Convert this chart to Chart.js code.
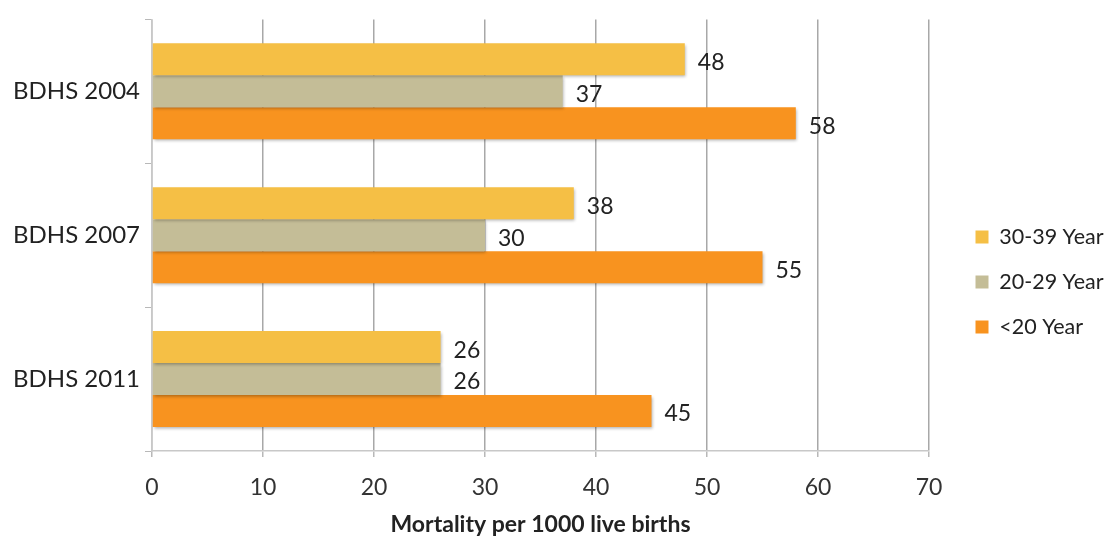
<!DOCTYPE html>
<html>
<head>
<meta charset="utf-8">
<script src="https://cdn.jsdelivr.net/npm/chart.js@4.4.1/dist/chart.umd.min.js"></script>
<style>
  html, body { margin: 0; padding: 0; background: #fff; }
  #wrap { width: 1114px; height: 536px; position: relative; }
</style>
</head>
<body>
<div id="wrap"><canvas id="mortChart"></canvas></div>
<script>
const surveys = ["BDHS 2004", "BDHS 2007", "BDHS 2011"];
const age30to39 = [48, 38, 26];
const age20to29 = [37, 30, 26];
const ageUnder20 = [58, 55, 45];
const xTicks = [0, 10, 20, 30, 40, 50, 60, 70];

const fontFamily = "Lato, 'Open Sans', sans-serif";
const fontSize = 23;

// soft drop shadow under each bar
const barShadow = {
  id: 'barShadow',
  beforeDatasetDraw(chart) {
    const ctx = chart.ctx;
    ctx.save();
    ctx.shadowColor = 'rgba(0,0,0,0.3)';
    ctx.shadowBlur = 3;
    ctx.shadowOffsetX = 1;
    ctx.shadowOffsetY = 2;
  },
  afterDatasetDraw(chart) {
    chart.ctx.restore();
  }
};

// value labels just past the end of each bar
const valueLabels = {
  id: 'valueLabels',
  afterDatasetsDraw(chart) {
    const ctx = chart.ctx;
    ctx.save();
    ctx.font = fontSize + "px " + fontFamily;
    ctx.textBaseline = 'middle';
    ctx.textAlign = 'left';
    ctx.fillStyle = '#222';
    chart.data.datasets.forEach((ds, i) => {
      chart.getDatasetMeta(i).data.forEach((bar, j) => {
        ctx.fillText(String(ds.data[j]), bar.x + 13, bar.y + 3);
      });
    });
    ctx.restore();
  }
};

// fixed legend column width, then push the items right and a bit lower
const legendPlace = {
  id: 'legendPlace',
  afterInit(chart) {
    const lg = chart.legend;
    const baseFit = lg.fit.bind(lg);
    lg.fit = function () {
      baseFit();
      this.width = 185;
    };
  },
  afterLayout(chart) {
    const lg = chart.legend;
    lg.left = 952;
    lg.right = 1114;
    lg.top += 5;
    lg.bottom += 5;
  }
};

const ctx = document.getElementById('mortChart');
new Chart(ctx, {
  type: 'bar',
  data: {
    labels: surveys,
    datasets: [
      { label: '30-39 Year', data: age30to39, backgroundColor: '#F5BF45' },
      { label: '20-29 Year', data: age20to29, backgroundColor: '#C4BD97' },
      { label: '<20 Year', data: ageUnder20, backgroundColor: '#F8931F' }
    ]
  },
  options: {
    indexAxis: 'y',
    responsive: true,
    maintainAspectRatio: false,
    animation: false,
    datasets: {
      bar: { categoryPercentage: 0.667, barPercentage: 1.0 }
    },
    layout: { padding: { top: 18, right: 0, left: 0, bottom: 0 } },
    plugins: {
      legend: {
        position: 'right',
        align: 'center',
        labels: {
          boxWidth: 13,
          boxHeight: 13,
          padding: 23.5,
          color: '#222',
          font: { family: fontFamily, size: 21.5 }
        }
      },
      tooltip: { enabled: false }
    },
    scales: {
      x: {
        min: 0,
        max: 70,
        afterBuildTicks(axis) {
          axis.ticks = xTicks.map(v => ({ value: v }));
        },
        afterFit(axis) { axis.height = 85; },
        grid: {
          color: '#a8a8a8',
          lineWidth: 1.5,
          drawTicks: true,
          tickLength: 6,
          tickColor: '#b8b8b8'
        },
        border: { color: '#c8c8c8', width: 1.5 },
        ticks: {
          color: '#333',
          padding: 17,
          font: { family: fontFamily, size: fontSize }
        },
        title: {
          display: true,
          text: 'Mortality per 1000 live births',
          color: '#222',
          padding: { top: 0, bottom: -2 },
          font: { family: fontFamily, size: fontSize, weight: 'bold' }
        }
      },
      y: {
        afterFit(axis) { axis.width = 152; },
        grid: {
          drawOnChartArea: false,
          drawTicks: true,
          tickLength: 7,
          tickColor: '#b8b8b8',
          offset: true
        },
        border: { color: '#c8c8c8', width: 1.5 },
        ticks: {
          color: '#222',
          padding: 5,
          font: { family: fontFamily, size: 24 }
        }
      }
    }
  },
  plugins: [barShadow, valueLabels, legendPlace]
});
</script>
</body>
</html>
